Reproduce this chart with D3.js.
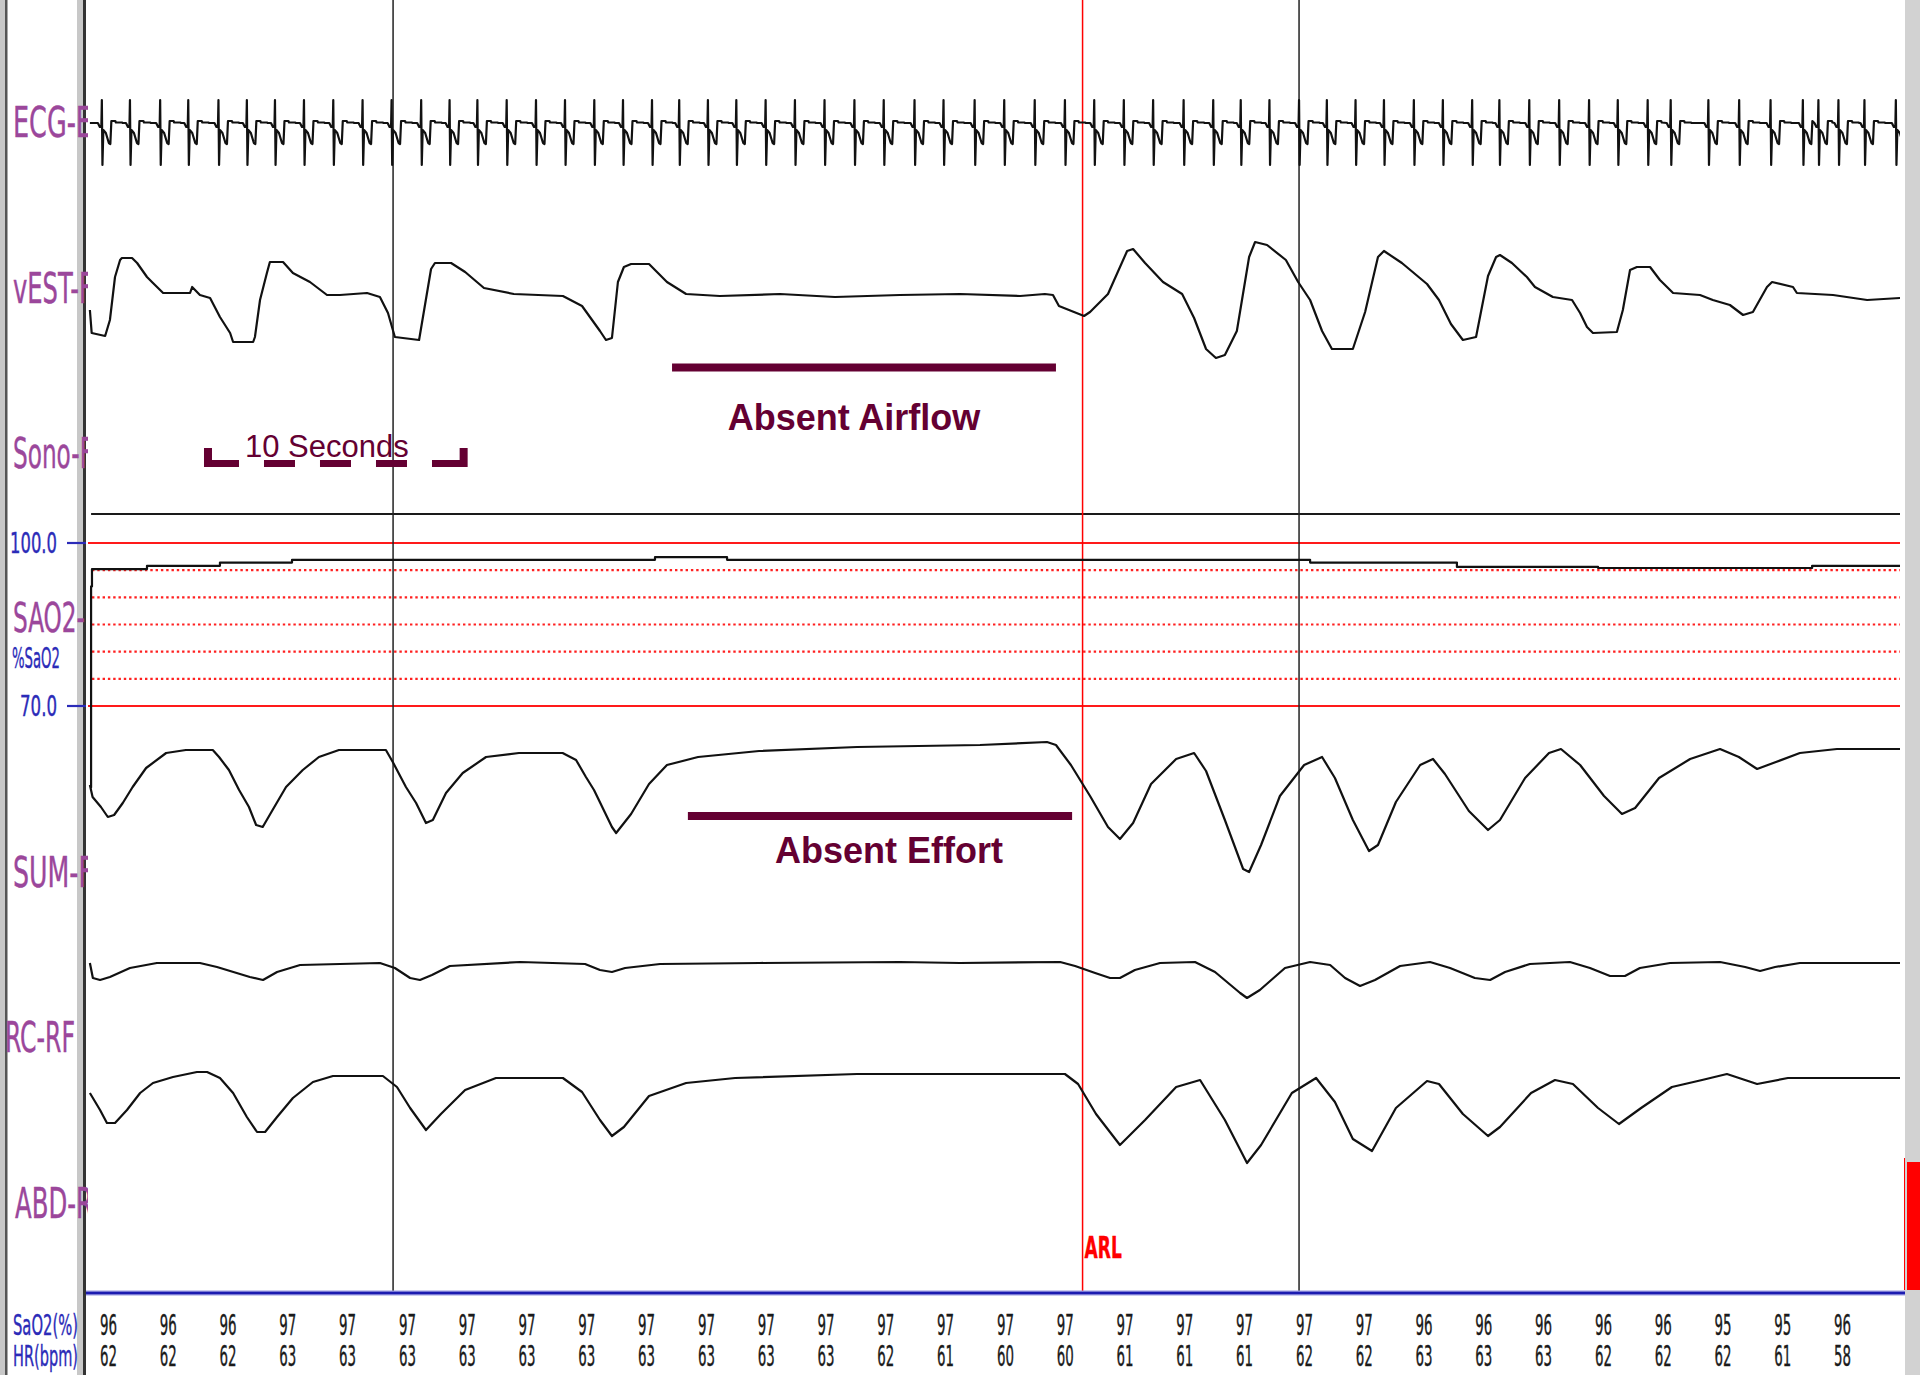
<!DOCTYPE html>
<html>
<head>
<meta charset="utf-8">
<script src="https://cdn.jsdelivr.net/npm/d3@7"></script>
<style>
html, body { margin: 0; padding: 0; background: #fff; }
svg { display: block; }
.lbl { font-family: "Liberation Sans Narrow", "DejaVu Sans Condensed", "Liberation Sans", sans-serif; }
.note { font-family: "Liberation Sans", Arial, sans-serif; fill: #640032; }
</style>
</head>
<body>
<svg id="chart"></svg>
<script>
// channel names down the left edge
var channelNames = ["ECG-E", "vEST-F", "Sono-F", "SAO2-", "SUM-F", "RC-RF", "ABD-R"];

// ECG: R-peak times (s), plus one beat shape (s from R, mV)
var ecgBeats = [0.53, 1.47, 2.48, 3.42, 4.43, 5.38, 6.32, 7.29, 8.27, 9.25, 10.22, 11.21, 12.16,
    13.09, 14.07, 15.05, 16.02, 17.00, 17.96, 18.93, 19.84, 20.80, 21.75, 22.73, 23.71, 24.70,
    25.70, 26.68, 27.71, 28.68, 29.72, 30.71, 31.73, 32.74, 33.72, 34.71, 35.69, 36.71, 37.70,
    38.62, 39.58, 40.57, 41.50, 42.46, 43.41, 44.41, 45.38, 46.36, 47.27, 48.27, 49.27, 50.27,
    51.23, 52.23, 53.00, 54.26, 55.29, 56.34, 57.42, 57.94, 58.61, 59.48, 60.53];
var ecgShapeT = [-0.134, -0.1, -0.067, -0.017, 0, 0.02, 0.05, 0.134, 0.234, 0.284, 0.318, 0.45, 0.47, 0.669, 0.702];
var ecgShapeV = [0, -0.08, -0.16, -0.16, 0.92, -1.68, -0.28, -0.4, -0.8, -0.84, 0.08, 0.08, 0.02, 0.02, 0];

// vEST (airflow), time in s, amplitude in a.u.
var vestT = [0.13, 0.19, 0.64, 0.80, 0.97, 1.14, 1.20, 1.54, 1.71, 2.04, 2.24, 2.58, 3.48, 3.55, 3.81,
    4.15, 4.48, 4.82, 4.92, 5.59, 5.65, 5.82, 6.05, 6.15, 6.59, 6.92, 7.49, 8.06, 8.49, 9.40, 9.83,
    10.10, 10.33, 11.14, 11.54, 11.67, 12.21, 12.68, 13.31, 14.31, 15.95, 16.59, 17.19, 17.39, 17.59,
    17.79, 17.99, 18.23, 18.83, 19.43, 20.07, 21.20, 23.21, 25.05, 27.22, 29.23, 31.24, 32.07, 32.34,
    32.54, 33.38, 33.58, 34.18, 34.82, 35.02, 35.42, 36.02, 36.66, 37.06, 37.46, 37.79, 38.09, 38.49,
    38.90, 39.10, 39.50, 40.13, 40.54, 40.94, 41.34, 41.67, 42.37, 42.78, 43.21, 43.41, 44.01, 44.85,
    45.25, 45.65, 46.05, 46.49, 46.89, 47.16, 47.29, 47.69, 48.19, 48.46, 49.06, 49.70, 49.97, 50.20,
    50.40, 51.20, 51.40, 51.64, 51.87, 52.31, 52.64, 53.08, 53.98, 54.41, 54.98, 55.42, 55.75, 56.22,
    56.39, 57.09, 57.22, 58.43, 59.57, 60.67];
var vestV = [-15, -38, -41, -25, 18, 35, 37, 37, 32, 18, 12, 2, 2, 8, 0,
    -3, -22, -38, -47, -47, -42, -5, 22, 33, 33, 22, 13, 0, 0, 2, -2,
    -18, -42, -45, 26, 32, 32, 23, 7, 1, -1, -11, -36, -45, -43,
    13, 28, 31, 31, 13, 1, -1, 1, -2, 0, 1, -1, 1, 0,
    -11, -21, -17, 1, 44, 46, 32, 13, 1, -23, -54, -63, -60, -36,
    38, 53, 50, 35, 13, -5, -36, -54, -54, -17, 38, 44, 32, 11,
    -5, -29, -45, -42, 19, 38, 40, 32, 18, 8, -2, -5, -18, -32,
    -38, -37, -15, 25, 28, 28, 15, 2, 0, -5, -10, -20, -17, 8,
    13, 8, 2, 0, -5, -3];

// SaO2 trace (%), stepwise
var spo2T = [0.15, 0.17, 0.20, 2.04, 4.48, 6.89, 19.03, 21.44, 40.94, 45.85, 50.57, 57.73, 60.67];
var spo2V = [55, 92, 95.2, 95.8, 96.4, 96.9, 97.4, 96.9, 96.4, 95.6, 95.4, 95.8, 95.8];
var spo2Solid = [100, 70];
var spo2Dotted = [95, 90, 85, 80, 75];

// SUM (effort sum)
var sumT = [0.13, 0.22, 0.50, 0.73, 0.94, 1.23, 1.56, 2.01, 2.68, 3.34, 4.24, 4.45, 4.78, 5.12, 5.45,
    5.69, 5.91, 6.24, 6.69, 7.25, 7.79, 8.46, 10.03, 10.26, 10.70, 11.04, 11.37, 11.60, 12.04, 12.60,
    13.38, 14.48, 15.94, 16.39, 16.72, 16.99, 17.59, 17.73, 18.23, 18.83, 19.43, 20.47, 22.51, 25.79,
    29.90, 32.14, 32.44, 32.94, 33.58, 34.18, 34.58, 35.02, 35.62, 36.46, 37.06, 37.46, 38.09, 38.70,
    38.90, 39.30, 39.93, 40.74, 41.34, 41.77, 42.37, 42.91, 43.21, 43.81, 44.62, 45.05, 45.45, 46.25,
    46.89, 47.29, 48.13, 48.93, 49.33, 49.97, 50.77, 51.37, 51.81, 52.61, 53.65, 54.65, 55.28, 55.89,
    56.52, 57.32, 58.56, 60.67];
var sumV = [-35, -47, -57, -67, -65, -53, -37, -18, -3, 0, 0, -7, -20, -40, -57,
    -75, -77, -60, -37, -20, -7, 0, 0, -12, -37, -53, -73, -70, -43, -23,
    -7, -3, -3, -10, -27, -40, -77, -83, -64, -34, -15, -7, -1, 3,
    5, 8, 5, -15, -46, -77, -89, -73, -34, -9, -3, -21, -70, -119,
    -122, -95, -46, -15, -7, -28, -70, -101, -95, -52, -15, -9, -24, -61,
    -80, -70, -28, -3, 1, -15, -46, -64, -58, -28, -9, 1, -7, -19,
    -12, -3, 1, 1];

// RC (rib cage)
var rcT = [0.13, 0.23, 0.47, 0.80, 1.47, 2.37, 3.81, 4.38, 5.48, 5.92, 6.39, 7.16, 9.83, 10.33, 10.84,
    11.17, 11.57, 12.17, 14.52, 16.69, 17.19, 17.59, 18.03, 19.20, 22.54, 27.22, 29.23, 32.58, 33.08,
    33.75, 34.25, 34.58, 35.08, 35.92, 37.09, 37.76, 38.60, 38.83, 39.26, 40.10, 40.94, 41.61, 42.11,
    42.61, 43.11, 43.95, 44.95, 45.62, 46.45, 46.96, 47.46, 48.29, 49.63, 50.30, 50.97, 51.47, 51.97,
    52.98, 54.65, 55.49, 55.99, 56.49, 57.32, 60.67];
var rcV = [1, -14, -16, -13, -4, 1, 1, -3, -13, -16, -8, -1, 1, -4, -14,
    -16, -11, -2, 2, 0, -6, -8, -4, 0, 1, 2, 1, 2, -2,
    -9, -14, -14, -6, 1, 2, -8, -29, -34, -26, -4, 2, -1, -14,
    -22, -16, -2, 2, -4, -14, -16, -8, 0, 2, -4, -12, -12, -4,
    1, 2, -3, -7, -3, 1, 1];

// ABD (abdomen)
var abdT = [0.13, 0.47, 0.70, 0.97, 1.37, 1.81, 2.24, 2.91, 3.71, 4.05, 4.48, 4.92, 5.38, 5.72, 5.99,
    6.39, 6.92, 7.59, 8.26, 9.93, 10.40, 10.84, 11.37, 11.87, 12.68, 13.71, 15.95, 16.59, 17.19, 17.59,
    17.99, 18.83, 20.07, 21.71, 25.79, 32.74, 33.18, 33.78, 34.58, 35.42, 36.46, 37.26, 38.09, 38.83,
    39.30, 40.33, 41.14, 41.77, 42.37, 43.01, 43.81, 44.85, 45.25, 46.05, 46.89, 47.29, 48.33, 49.13,
    49.73, 50.57, 51.27, 52.01, 53.04, 54.05, 54.88, 55.89, 56.92, 58.56, 60.67];
var abdV = [-17, -34, -47, -47, -34, -17, -7, -1, 4, 4, -2, -17, -41, -56, -56,
    -41, -22, -6, 0, 0, -11, -32, -54, -38, -14, -2, -2, -16, -44, -60,
    -51, -20, -7, -2, 2, 2, -8, -38, -69, -44, -11, -4, -44, -87,
    -69, -17, -2, -26, -63, -75, -32, -5, -8, -38, -60, -51, -17, -4,
    -8, -32, -48, -32, -11, -4, 2, -8, -2, -2, -2];

// 2-second summary row under the traces
var epochSpo2 = [96, 96, 96, 97, 97, 97, 97, 97, 97, 97, 97, 97, 97, 97, 97,
    97, 97, 97, 97, 97, 97, 97, 96, 96, 96, 96, 96, 95, 95, 96];
var epochHr = [62, 62, 62, 63, 63, 63, 63, 63, 63, 63, 63, 63, 63, 62, 61,
    60, 60, 61, 61, 61, 62, 62, 63, 63, 63, 62, 62, 62, 61, 58];

// markers and annotations (s)
var epochLines = [10.27, 40.57];
var arousalTime = 33.33;
var airflowBar = [19.60, 32.44];
var effortBar = [20.13, 32.98];
var tenSecBar = [4.08, 12.63];

var width = 1920, height = 1375;
var plotLeft = 86, plotRight = 1900, plotBottom = 1293;

var svg = d3.select("#chart").attr("width", width).attr("height", height);

var x = d3.scaleLinear().domain([0, 60]).range([86, 1880]);

// one y scale per channel: base line and pixels per unit
function chanScale(base, gain) {
    return d3.scaleLinear().domain([-1, 1]).range([base + gain, base - gain]);
}
var yEcg = chanScale(123, 25),
    yVest = chanScale(295, 1),
    ySum = chanScale(750, 1),
    yRc = chanScale(964, 1),
    yAbd = chanScale(1076, 1);
var ySpo2 = d3.scaleLinear().domain([70, 100]).range([706, 543]);

function zip(ts, vs) { return ts.map(function(t, i) { return [t, vs[i]]; }); }

// narrow screen-font text: measured, then squeezed to the wanted width
function fitText(g, str, tx, ty, size, w, fill, anchor) {
    var t = g.append("text").attr("class", "lbl")
        .attr("font-size", size).attr("fill", fill)
        .attr("text-anchor", anchor || "start")
        .attr("stroke", fill).attr("stroke-width", 0.4)
        .text(str);
    var len = t.node().getComputedTextLength();
    t.attr("transform", "translate(" + tx + "," + ty + ") scale(" + (w / len) + ",1)");
    return t;
}

svg.append("defs").append("clipPath").attr("id", "plotClip")
    .append("rect").attr("x", plotLeft).attr("y", 0)
    .attr("width", plotRight - plotLeft).attr("height", plotBottom);
svg.select("defs").append("clipPath").attr("id", "lblClip")
    .append("rect").attr("x", 0).attr("y", 0).attr("width", 88).attr("height", height);

var plot = svg.append("g").attr("clip-path", "url(#plotClip)");

// SaO2 grid
plot.selectAll("line.solid").data(spo2Solid).enter().append("line")
    .attr("x1", plotLeft + 2).attr("x2", plotRight)
    .attr("y1", ySpo2).attr("y2", ySpo2)
    .attr("stroke", "#ff1a1a").attr("stroke-width", 2.2);
plot.selectAll("line.dot").data(spo2Dotted).enter().append("line")
    .attr("x1", plotLeft + 6).attr("x2", plotRight)
    .attr("y1", ySpo2).attr("y2", ySpo2)
    .attr("stroke", "#ff2020").attr("stroke-width", 2.2)
    .attr("stroke-dasharray", "2.4,2.9");

// sono channel is flat
plot.append("line").attr("x1", x(0.17)).attr("x2", plotRight)
    .attr("y1", 514).attr("y2", 514)
    .attr("stroke", "#1a1a1a").attr("stroke-width", 2);

// epoch lines and arousal line
plot.selectAll("line.epoch").data(epochLines).enter().append("line")
    .attr("x1", x).attr("x2", x).attr("y1", 0).attr("y2", plotBottom)
    .attr("stroke", "#222").attr("stroke-width", 1.5);
plot.append("line").attr("x1", x(arousalTime)).attr("x2", x(arousalTime))
    .attr("y1", 0).attr("y2", plotBottom)
    .attr("stroke", "#ff0000").attr("stroke-width", 1.5);

// ECG built from beat times and the beat shape
var ecgPts = [[0.13, 0]];
ecgBeats.forEach(function(b, i) {
    var next = i < ecgBeats.length - 1 ? ecgBeats[i + 1] : Infinity;
    ecgShapeT.forEach(function(dt, j) {
        var t = b + dt;
        if (t <= ecgPts[ecgPts.length - 1][0]) return;
        if (dt > 0 && t > next - 0.14) return;
        ecgPts.push([t, ecgShapeV[j]]);
    });
});
ecgPts.push([61, 0]);

function trace(pts, y, curve) {
    plot.append("path").datum(pts)
        .attr("fill", "none").attr("stroke", "#111").attr("stroke-width", 2.2)
        .attr("stroke-linejoin", "round")
        .attr("d", d3.line().curve(curve || d3.curveLinear)
            .x(function(d) { return x(d[0]); })
            .y(function(d) { return y(d[1]); }));
}
trace(ecgPts, yEcg);
trace(zip(vestT, vestV), yVest);
trace(zip(spo2T, spo2V), ySpo2, d3.curveStepAfter);
trace(zip(sumT, sumV), ySum);
trace(zip(rcT, rcV), yRc);
trace(zip(abdT, abdV), yAbd);

// annotations
var maroon = "#640032";
plot.append("line").attr("x1", x(airflowBar[0])).attr("x2", x(airflowBar[1]))
    .attr("y1", 367.5).attr("y2", 367.5).attr("stroke", maroon).attr("stroke-width", 8);
plot.append("line").attr("x1", x(effortBar[0])).attr("x2", x(effortBar[1]))
    .attr("y1", 816).attr("y2", 816).attr("stroke", maroon).attr("stroke-width", 8);
svg.append("text").attr("class", "note").attr("x", (x(airflowBar[0]) + x(airflowBar[1])) / 2 - 10)
    .attr("y", 430).attr("text-anchor", "middle")
    .attr("font-size", 36).attr("font-weight", "bold").text("Absent Airflow");
svg.append("text").attr("class", "note").attr("x", (x(effortBar[0]) + x(effortBar[1])) / 2 + 9)
    .attr("y", 863).attr("text-anchor", "middle")
    .attr("font-size", 36).attr("font-weight", "bold").text("Absent Effort");

plot.append("line").attr("x1", x(tenSecBar[0])).attr("x2", x(tenSecBar[1]))
    .attr("y1", 463.5).attr("y2", 463.5).attr("stroke", maroon).attr("stroke-width", 7)
    .attr("stroke-dasharray", "31,25");
tenSecBar.forEach(function(t) {
    plot.append("rect").attr("x", x(t) - 4).attr("y", 448)
        .attr("width", 8).attr("height", 19).attr("fill", maroon);
});
svg.append("text").attr("class", "note").attr("x", 245).attr("y", 457)
    .attr("font-size", 31).text("10 Seconds");

fitText(svg, "ARL", x(arousalTime) + 2, 1258, 30, 33, "#ff0000").attr("font-weight", "bold");

// bottom baseline
svg.append("line").attr("x1", plotLeft).attr("x2", 1905).attr("y1", plotBottom).attr("y2", plotBottom)
    .attr("stroke", "#9a9ae0").attr("stroke-width", 5);
svg.append("line").attr("x1", plotLeft).attr("x2", 1905).attr("y1", plotBottom).attr("y2", plotBottom)
    .attr("stroke", "#1c1cb0").attr("stroke-width", 2.5);

// summary numbers, one column per 2 s
var epochX = function(i) { return x(0.75 + 2 * i); };
var numG = svg.append("g");
epochSpo2.forEach(function(d, i) {
    fitText(numG, d, epochX(i), 1335, 28, 17, "#1a1a1a", "middle");
});
epochHr.forEach(function(d, i) {
    fitText(numG, d, epochX(i), 1366, 28, 17, "#1a1a1a", "middle");
});

// left frame and right scrollbar
svg.append("rect").attr("x", 0).attr("y", 0).attr("width", 5).attr("height", height).attr("fill", "#c8c8c8");
svg.append("rect").attr("x", 5).attr("y", 0).attr("width", 2.5).attr("height", height).attr("fill", "#555");
svg.append("rect").attr("x", 77).attr("y", 0).attr("width", 6).attr("height", height).attr("fill", "#c8c8c8");
svg.append("rect").attr("x", 83).attr("y", 0).attr("width", 3).attr("height", height).attr("fill", "#333");
svg.append("rect").attr("x", 1905).attr("y", 0).attr("width", 15).attr("height", height).attr("fill", "#d2d2d2");
svg.append("rect").attr("x", 1907).attr("y", 1162).attr("width", 13).attr("height", 128).attr("fill", "#ff0000");
svg.append("line").attr("x1", 1904.5).attr("x2", 1904.5).attr("y1", 1158).attr("y2", 1290)
    .attr("stroke", "#ff0000").attr("stroke-width", 1);

// channel labels, cut off where the trace area starts
var purple = "#9b479b", blue = "#2b2bb8";
var lblG = svg.append("g").attr("clip-path", "url(#lblClip)");
var lblPos = [[13, 137, 43, 79], [13, 303, 43, 80], [13, 468, 43, 80], [13, 632, 40, 72],
    [13, 887, 43, 80], [5, 1052, 43, 70], [15, 1218, 43, 78]];
channelNames.forEach(function(n, i) {
    var p = lblPos[i];
    fitText(lblG, n, p[0], p[1], p[2], p[3], purple);
});

// SaO2 scale labels
var spo2Lbl = [["100.0", 100, 10, 47], ["70.0", 70, 20, 37]];
spo2Lbl.forEach(function(s) {
    fitText(svg, s[0], s[2], ySpo2(s[1]) + 10, 28, s[3], blue);
    svg.append("line").attr("x1", 67).attr("x2", 86).attr("y1", ySpo2(s[1])).attr("y2", ySpo2(s[1]))
        .attr("stroke", blue).attr("stroke-width", 2.2);
});
fitText(svg, "%SaO2", 12, 668, 28, 48, blue);
fitText(svg, "SaO2(%)", 13, 1335, 28, 65, blue);
fitText(svg, "HR(bpm)", 13, 1366, 28, 65, blue);
</script>
</body>
</html>
